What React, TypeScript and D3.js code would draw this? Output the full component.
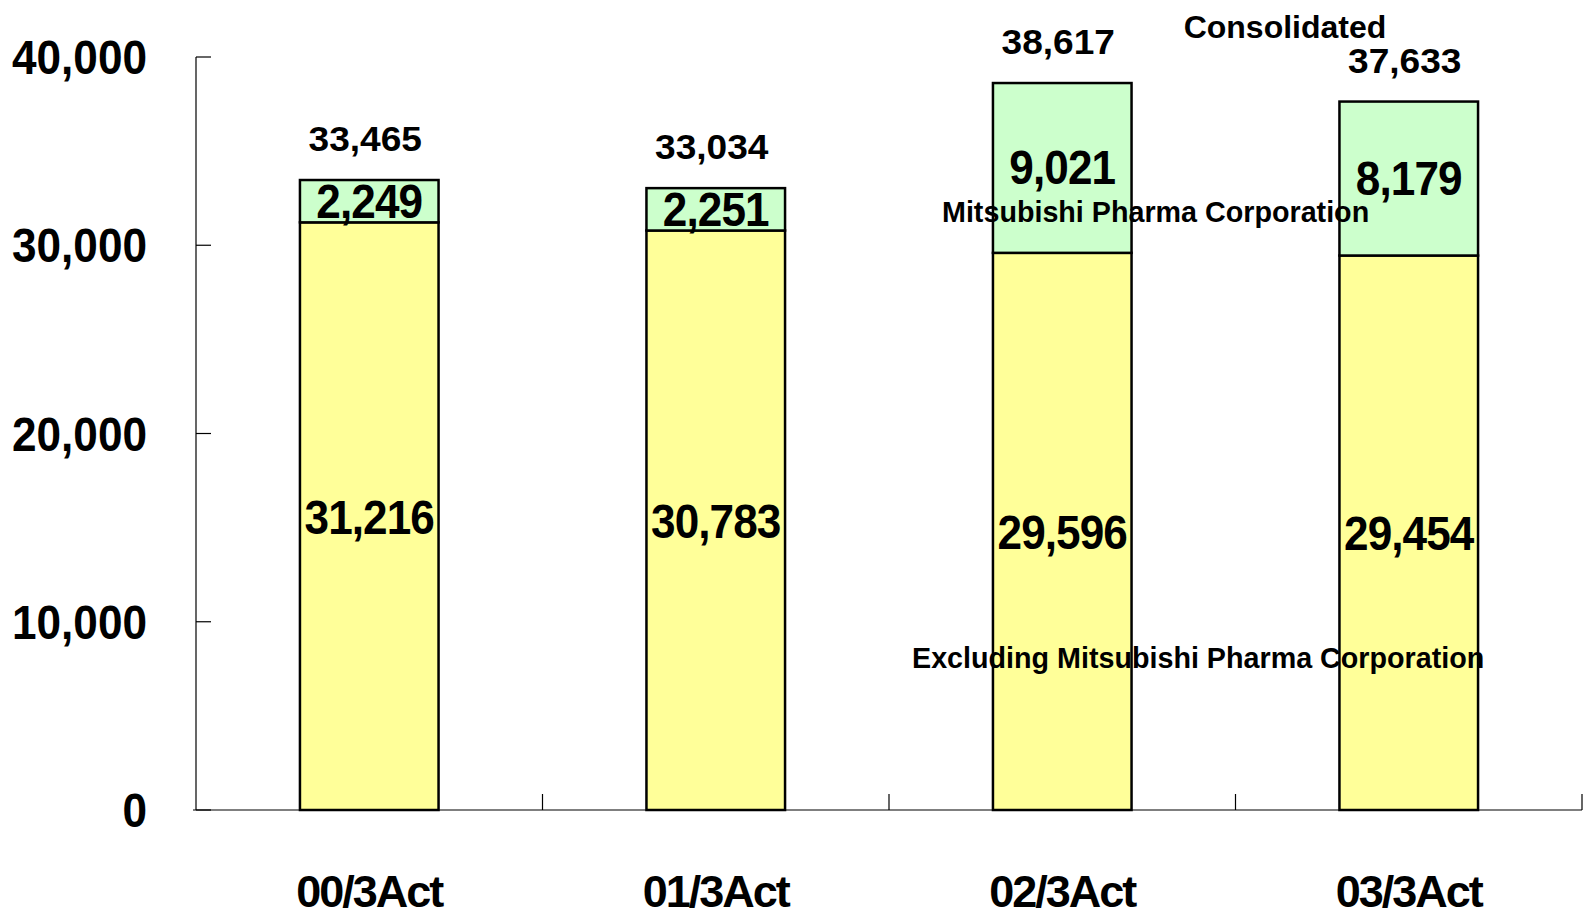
import React, { useEffect, useRef } from "react";
import * as d3 from "d3";

const categories = ["00/3Act", "01/3Act", "02/3Act", "03/3Act"];
const excludingValues = [31216, 30783, 29596, 29454];
const mpcValues = [2249, 2251, 9021, 8179];
const totalValues = [33465, 33034, 38617, 37633];
const yTicks = [0, 10000, 20000, 30000, 40000];

const FONT = '"Liberation Sans", Arial, Helvetica, sans-serif';

const App = () => {
  const svgRef = useRef<SVGSVGElement | null>(null);

  useEffect(() => {
    if (!svgRef.current) return;

    const width = 1588;
    const height = 921;
    const margin = { top: 57, right: 6, bottom: 111, left: 196 };

    const svg = d3.select(svgRef.current).attr("width", width).attr("height", height);
    svg.selectAll("*").remove();

    const x = d3
      .scaleBand<string>()
      .domain(categories)
      .range([margin.left, width - margin.right])
      .paddingInner(0.6)
      .paddingOuter(0.3);

    const y = d3
      .scaleLinear()
      .domain([0, 40000])
      .range([height - margin.bottom, margin.top]);

    const step = x.step();
    const bw = x.bandwidth();
    const cx = (c: string) => (x(c) as number) + bw / 2;
    const fmt = d3.format(",");

    const data = categories.map((c, i) => ({
      cat: c,
      base: excludingValues[i],
      mpc: mpcValues[i],
      total: totalValues[i],
    }));

    // axes
    const axis = svg.append("g").attr("stroke", "#000").attr("stroke-width", 1.2);
    axis
      .append("line")
      .attr("x1", margin.left)
      .attr("x2", margin.left)
      .attr("y1", y(40000))
      .attr("y2", y(0));
    axis
      .selectAll("line.ytick")
      .data(yTicks)
      .enter()
      .append("line")
      .attr("class", "ytick")
      .attr("x1", margin.left)
      .attr("x2", margin.left + 15)
      .attr("y1", (d) => y(d))
      .attr("y2", (d) => y(d));
    axis
      .append("line")
      .attr("x1", margin.left - 3)
      .attr("x2", width - margin.right)
      .attr("y1", y(0))
      .attr("y2", y(0));
    axis
      .selectAll("line.xtick")
      .data(categories)
      .enter()
      .append("line")
      .attr("class", "xtick")
      .attr("x1", (d) => (x(d) as number) + bw + (step - bw) / 2)
      .attr("x2", (d) => (x(d) as number) + bw + (step - bw) / 2)
      .attr("y1", y(0))
      .attr("y2", y(0) - 16);

    // y tick labels
    svg
      .append("g")
      .selectAll("text")
      .data(yTicks)
      .enter()
      .append("text")
      .attr("transform", (d) => `translate(147,${y(d) + 17}) scale(0.92,1)`)
      .attr("text-anchor", "end")
      .style("font-family", FONT)
      .style("font-weight", "bold")
      .style("font-size", "48px")
      .text((d) => fmt(d));

    // bars
    const bars = svg.append("g");
    bars
      .selectAll("rect.base")
      .data(data)
      .enter()
      .append("rect")
      .attr("class", "base")
      .attr("x", (d) => x(d.cat) as number)
      .attr("width", bw)
      .attr("y", (d) => y(d.base))
      .attr("height", (d) => y(0) - y(d.base))
      .attr("fill", "#FFFF99")
      .attr("stroke", "#000")
      .attr("stroke-width", 2.5);
    bars
      .selectAll("rect.mpc")
      .data(data)
      .enter()
      .append("rect")
      .attr("class", "mpc")
      .attr("x", (d) => x(d.cat) as number)
      .attr("width", bw)
      .attr("y", (d) => y(d.base + d.mpc))
      .attr("height", (d) => y(d.base) - y(d.base + d.mpc))
      .attr("fill", "#CCFFCC")
      .attr("stroke", "#000")
      .attr("stroke-width", 2.5);

    // segment labels (slightly condensed)
    const seg = svg
      .append("g")
      .style("font-family", FONT)
      .style("font-weight", "bold")
      .style("font-size", "49px")
      .style("letter-spacing", "-1px")
      .attr("text-anchor", "middle");
    seg
      .selectAll("text.base")
      .data(data)
      .enter()
      .append("text")
      .attr(
        "transform",
        (d) => `translate(${cx(d.cat)},${(y(0) + y(d.base)) / 2 + 17.5}) scale(0.9,1)`
      )
      .text((d) => fmt(d.base));
    seg
      .selectAll("text.mpc")
      .data(data)
      .enter()
      .append("text")
      .attr(
        "transform",
        (d) =>
          `translate(${cx(d.cat)},${(y(d.base) + y(d.base + d.mpc)) / 2 + 16.5}) scale(0.9,1)`
      )
      .text((d) => fmt(d.mpc));

    // totals
    svg
      .append("g")
      .selectAll("text")
      .data(data)
      .enter()
      .append("text")
      .attr("transform", (d) => `translate(${cx(d.cat) - 4},${y(d.total) - 29}) scale(1.06,1)`)
      .attr("text-anchor", "middle")
      .style("font-family", FONT)
      .style("font-weight", "bold")
      .style("font-size", "35px")
      .text((d) => fmt(d.total));

    // category labels
    svg
      .append("g")
      .selectAll("text")
      .data(categories)
      .enter()
      .append("text")
      .attr("x", (d) => cx(d))
      .attr("y", 907)
      .attr("text-anchor", "middle")
      .style("font-family", FONT)
      .style("font-weight", "bold")
      .style("font-size", "45px")
      .style("letter-spacing", "-2px")
      .text((d) => d);

    // annotations
    const note = svg
      .append("g")
      .style("font-family", FONT)
      .style("font-weight", "bold");
    note
      .append("text")
      .attr("x", 1285)
      .attr("y", 38)
      .attr("text-anchor", "middle")
      .style("font-size", "32px")
      .text("Consolidated");
    note
      .append("text")
      .attr("x", 942)
      .attr("y", 222)
      .style("font-size", "28.7px")
      .text("Mitsubishi Pharma Corporation");
    note
      .append("text")
      .attr("x", 912)
      .attr("y", 668)
      .style("font-size", "28.7px")
      .text("Excluding Mitsubishi Pharma Corporation");
  }, []);

  return (
    <svg
      ref={svgRef}
      style={{ position: "absolute", left: 0, top: 0, display: "block", background: "#fff" }}
    ></svg>
  );
};

export default App;
